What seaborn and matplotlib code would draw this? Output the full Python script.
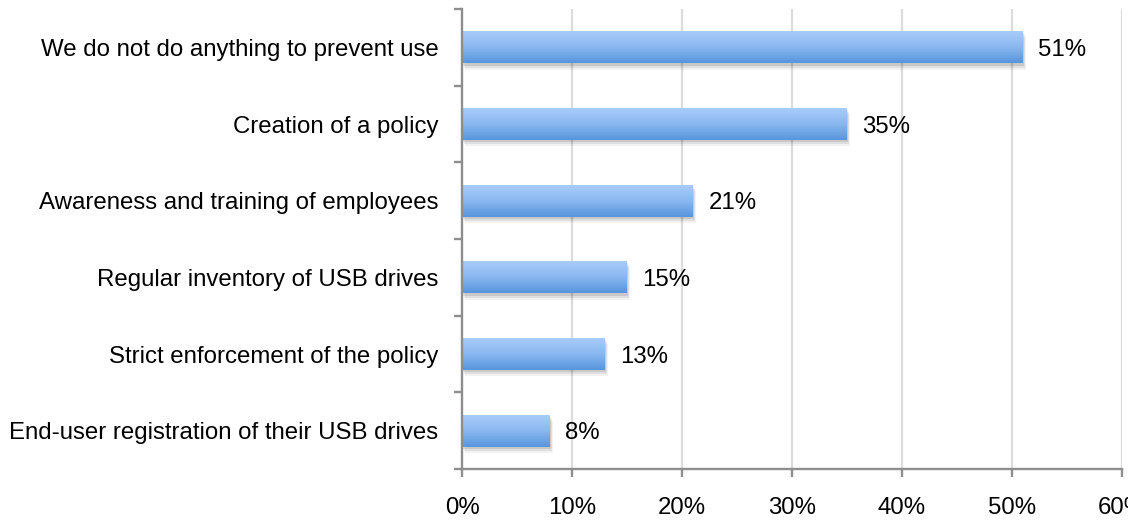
import numpy as np
import pandas as pd
import matplotlib
matplotlib.use("Agg")
import matplotlib.pyplot as plt
import matplotlib.patheffects as pe
from matplotlib.colors import LinearSegmentedColormap
import seaborn as sns

categories = [
    "We do not do anything to prevent use",
    "Creation of a policy",
    "Awareness and training of employees",
    "Regular inventory of USB drives",
    "Strict enforcement of the policy",
    "End-user registration of their USB drives",
]
values = [51, 35, 21, 15, 13, 8]
xticks = [0, 10, 20, 30, 40, 50, 60]
xtick_labels = ["0%", "10%", "20%", "30%", "40%", "50%", "60%"]

sns.set_theme(style="white")
plt.rcParams["font.family"] = ["Liberation Sans", "DejaVu Sans"]

FS = 17.3

df = pd.DataFrame({"measure": categories, "share": values})

fig = plt.figure(figsize=(11.28, 5.21), dpi=100)
ax = fig.add_axes([0.4096, 0.0998, 0.5851, 0.8829])

sns.barplot(data=df, x="share", y="measure", orient="h", ax=ax,
            color="#5a99de", width=0.42, saturation=1.0, zorder=3)

ax.set_xlim(0, 60)
ax.set_ylim(len(categories) - 0.5, -0.5)

bar_cmap = LinearSegmentedColormap.from_list("bar", ["#aacdfb", "#8bb8f0", "#5796dd"])
grad = np.linspace(0, 1, 64).reshape(-1, 1)

shadow = [
    pe.SimplePatchShadow(offset=(0.8, -1.5), shadow_rgbFace="black", alpha=0.10),
    pe.SimplePatchShadow(offset=(1.6, -3.0), shadow_rgbFace="black", alpha=0.08),
    pe.SimplePatchShadow(offset=(2.4, -4.5), shadow_rgbFace="black", alpha=0.05),
    pe.Normal(),
]

for patch, v in zip(ax.patches, values):
    patch.set_edgecolor("none")
    patch.set_path_effects(shadow)
    x0, y0 = patch.get_x(), patch.get_y()
    w, h = patch.get_width(), patch.get_height()
    im = ax.imshow(grad, cmap=bar_cmap, aspect="auto", origin="upper",
                   extent=(x0, x0 + w, y0 + h, y0), zorder=4,
                   interpolation="bilinear")
    im.set_clip_path(patch)
    ax.text(x0 + w + 1.4, y0 + h / 2, f"{v}%", va="center_baseline", ha="left",
            fontsize=FS, color="black", zorder=5)

ax.set_xlim(0, 60)
ax.set_ylim(len(categories) - 0.5, -0.5)

# vertical gridlines
for xv in xticks[1:]:
    ax.axvline(xv, color="#dcdcdc", lw=1.6, zorder=1)

ax.set_xticks(xticks)
ax.set_xticklabels(xtick_labels)
ax.set_xlabel("")
ax.set_ylabel("")

# category boundary ticks on the y axis
ax.set_yticks(np.arange(len(categories)))
ax.set_yticklabels(categories)
ax.set_yticks(np.arange(len(categories) + 1) - 0.5, minor=True)

spine_color = "#8e8e8e"
for side in ["top", "right"]:
    ax.spines[side].set_visible(False)
for side in ["left", "bottom"]:
    ax.spines[side].set_color(spine_color)
    ax.spines[side].set_linewidth(1.7)
    ax.spines[side].set_zorder(6)

ax.tick_params(axis="y", which="major", length=0, pad=17, labelsize=FS,
               labelcolor="black")
ax.tick_params(axis="y", which="minor", left=True, length=6, width=1.7,
               color=spine_color, direction="out")
ax.tick_params(axis="x", which="major", bottom=True, length=6, width=1.7,
               color=spine_color, direction="out", pad=14, labelsize=FS,
               labelcolor="black")

fig.savefig("out.png", dpi=100)
